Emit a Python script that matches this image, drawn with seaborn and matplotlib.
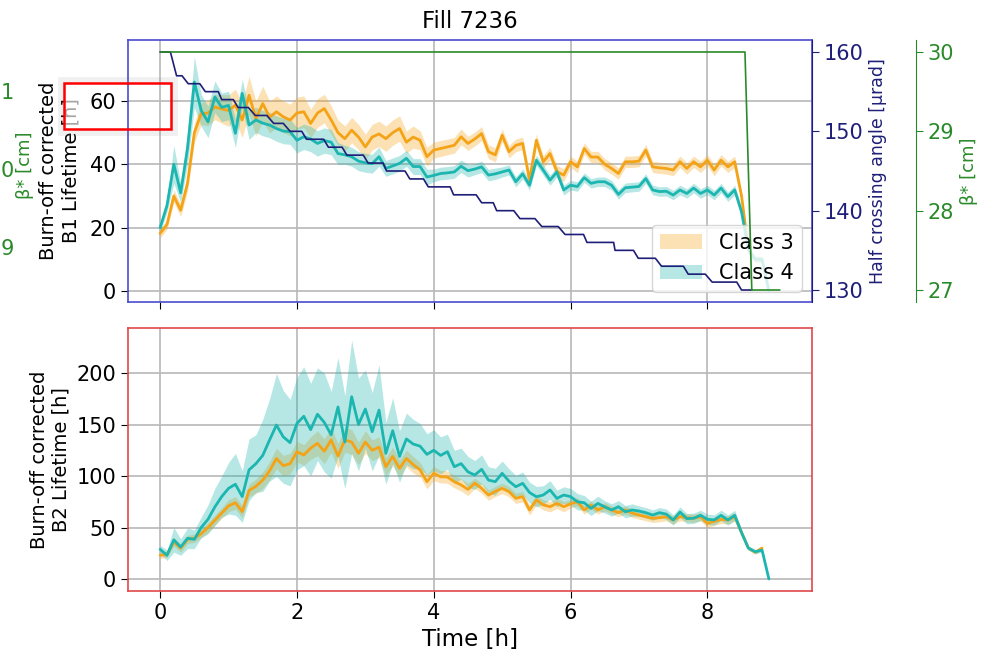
import numpy as np
import matplotlib
matplotlib.use("Agg")
import matplotlib.pyplot as plt
from matplotlib.patches import Rectangle
import seaborn as sns

# ---------------------------------------------------------------- data
time_h = np.round(np.arange(0.0, 8.95, 0.1), 1)

b1_class3 = [
    18.2, 21, 30, 25.5, 34, 50, 56, 56.2, 58.1, 57.5,
    57, 58.7, 54, 61.8, 54.5, 59.2, 54.9, 56.6, 55, 54,
    56.2, 56.6, 52.9, 56.2, 57.6, 54, 50, 48.1, 50.8, 48.6,
    45.5, 48.6, 49.6, 48.1, 50, 51.3, 47, 48.6, 47.6, 42.4,
    44.5, 45, 45.5, 46, 48.7, 46.6, 48, 49.7, 44, 43,
    49.2, 44, 46, 46.6, 35, 47.6, 40.8, 43.4, 37.7, 36.6,
    40.8, 39.2, 45, 42.3, 42.3, 40, 38.7, 37.1, 40.8, 40.8,
    41, 44.5, 39.2, 38.9, 38.7, 38.2, 40.8, 38.7, 40.8, 39.2,
    41.3, 38.2, 41.3, 39.2, 40.8, 30, 13, 10, 10, np.nan,
]
b1_class3_spread = [
    1.5, 1.5, 2, 2, 2.5, 3, 3.5, 4, 4, 4.5,
    5, 5, 5.5, 6, 5.5, 5.5, 5, 5, 5, 5,
    5, 5, 4.5, 4.5, 4.5, 4.5, 4, 4, 4, 4,
    4, 4, 4, 4, 4, 4, 3.5, 3.5, 3, 3,
    2.5, 2.5, 2.5, 2.5, 2.5, 2.2, 2.2, 2.2, 2.2, 2.2,
    2, 2, 2, 2, 2, 2, 2, 2, 2, 2,
    1.8, 1.8, 1.8, 1.8, 1.8, 1.8, 1.8, 1.8, 1.8, 1.8,
    1.8, 1.8, 1.8, 1.8, 1.8, 1.8, 1.8, 1.8, 1.8, 1.8,
    1.8, 1.8, 1.8, 1.8, 1.8, 1.5, 1.2, 1, 1, np.nan,
]
b1_class4 = [
    20, 27, 40, 31, 45, 66, 57, 53.4, 61.3, 58,
    58.6, 49.8, 62.4, 52.4, 54, 53, 52.4, 51.3, 50.5, 50.3,
    47.6, 48.7, 48, 46.6, 47.5, 47, 43.4, 43, 42.4, 41,
    40.5, 40.2, 42.4, 38.7, 39.5, 40.3, 41.9, 39.3, 39.3, 36,
    36.5, 37.1, 37.3, 37.6, 39.4, 38, 38.5, 39.2, 36.6, 37,
    37.6, 38.2, 34.5, 37, 33.4, 41.3, 38.2, 35, 37.6, 31.9,
    33.4, 33, 35.8, 34, 34.5, 34.5, 33.4, 30.5, 32.6, 32.8,
    33, 35.5, 31.9, 31.4, 31.5, 30.3, 31.9, 30.8, 32.5, 30.8,
    31.9, 30.3, 32.5, 29.8, 31.9, 25, 13, 10, 10, 0,
]
b1_class4_spread = [
    1.5, 2, 6, 3, 5, 8, 5, 5, 5, 4.5,
    4.5, 4.5, 4.5, 4.5, 4, 4, 4, 4, 4, 4,
    4, 4, 4, 4, 4, 4, 3.5, 3, 3, 3,
    3, 3, 3, 2.5, 2.5, 2.5, 2.5, 2.5, 2.5, 2.5,
    2, 2, 2, 2, 2, 2, 1.8, 1.8, 1.8, 1.8,
    1.6, 1.6, 1.6, 1.6, 1.6, 1.6, 1.6, 1.6, 1.6, 1.6,
    1.5, 1.5, 1.5, 1.5, 1.5, 1.5, 1.5, 1.5, 1.5, 1.5,
    1.5, 1.5, 1.5, 1.5, 1.5, 1.5, 1.5, 1.5, 1.5, 1.5,
    1.5, 1.5, 1.5, 1.5, 1.5, 1.5, 1.2, 1, 1, 0,
]

b2_class3 = [
    23, 24, 36, 30, 38.5, 39.5, 44, 50, 57, 64,
    71, 74, 65.4, 86, 90, 96, 105, 117, 110, 112,
    123.6, 120.4, 127, 131.7, 124, 135, 119.4, 135, 133, 122,
    133, 125, 128, 109, 119, 107.4, 117, 111, 106, 94.5,
    102.6, 99.3, 99, 94.5, 91.3, 87, 93, 88, 81.5, 85,
    88, 84.8, 78.3, 80, 67, 76.7, 72, 70.2, 73.4, 70.2,
    73, 75, 67, 71.8, 67, 70.2, 67, 64.4, 67, 64,
    62.1, 60.5, 58.9, 59.5, 60.5, 57.3, 60.5, 59.5, 58.9, 60.5,
    54, 56, 57.9, 57.3, 60.5, 45, 30, 26, 30, np.nan,
]
b2_class3_spread = [
    3, 3, 4, 4, 4, 4, 4, 5, 5, 5,
    6, 6, 6, 6, 7, 8, 9, 10, 10, 10,
    10, 10, 11, 12, 12, 12, 12, 12, 12, 11,
    11, 10, 10, 9, 9, 8, 8, 8, 7, 7,
    7, 6, 6, 6, 6, 6, 5, 5, 5, 5,
    5, 5, 5, 5, 5, 5, 5, 5, 5, 5,
    4, 4, 4, 4, 4, 4, 4, 4, 4, 4,
    4, 4, 4, 4, 4, 4, 4, 4, 4, 4,
    4, 4, 4, 4, 4, 3, 2, 2, 2, np.nan,
]
b2_class4 = [
    28.8, 23, 38, 31, 39.5, 38.5, 50, 58, 70, 80,
    88, 92, 80, 106, 112, 120, 135, 149.5, 138, 132.4,
    151, 158, 145, 160, 152, 140, 167, 133, 177, 150,
    165, 143, 164, 122, 144, 119, 136, 131, 129, 121,
    125, 120, 123.6, 109, 112, 104, 101, 106.5, 96, 94.5,
    102.6, 95, 89.6, 92.9, 84, 79.9, 81.5, 86.4, 78.3, 81.5,
    80, 75, 74, 68.6, 73.4, 70, 67, 70.2, 65.3, 67,
    66, 64.4, 62.1, 64.4, 63, 57.3, 65, 58.6, 59, 61.8,
    58, 57.3, 61.8, 57.3, 61.8, 45, 30, 26.5, 28, 0,
]
b2_class4_spread = [
    4, 5, 12, 8, 10, 9, 10, 14, 18, 20,
    25, 30, 25, 30, 28, 35, 40, 50, 45, 42,
    45, 48, 45, 45, 48, 42, 48, 45, 55, 45,
    38, 38, 44, 30, 32, 25, 25, 24, 22, 20,
    20, 18, 17, 16, 15, 15, 14, 14, 13, 13,
    12, 12, 11, 11, 10, 10, 9, 9, 8, 8,
    8, 8, 7, 7, 7, 6, 6, 6, 6, 6,
    5, 5, 5, 5, 5, 5, 5, 5, 5, 5,
    5, 5, 5, 5, 5, 3, 2, 2, 2, 0,
]

# half crossing angle [µrad] (stepped leveling)
xing_t = [0.0, 0.15, 0.24, 0.32, 0.41, 0.58, 0.66, 0.85, 0.90, 1.07,
          1.14, 1.29, 1.39, 1.56, 1.66, 1.80, 1.90, 2.07, 2.14, 2.39,
          2.46, 2.66, 2.73, 2.97, 3.04, 3.26, 3.31, 3.58, 3.65, 3.85,
          3.92, 4.24, 4.29, 4.62, 4.70, 4.87, 4.92, 5.17, 5.26, 5.48,
          5.58, 5.82, 5.92, 6.19, 6.24, 6.63, 6.65, 6.92, 6.99, 7.24,
          7.33, 7.65, 7.72, 7.97, 8.07, 8.43, 8.50, 8.65]
xing_angle = [160, 160, 157, 157, 156, 156, 155, 155, 154, 154,
              153, 153, 152, 152, 151, 151, 150, 150, 149, 149,
              148, 148, 147, 147, 146, 146, 145, 145, 144, 144,
              143, 143, 142, 142, 141, 141, 140, 140, 139, 139,
              138, 138, 137, 137, 136, 136, 135, 135, 134, 134,
              133, 133, 132, 132, 131, 131, 130, 130]

# beta* [cm]
beta_t = [0.0, 8.55, 8.65, 9.06]
beta_cm = [30, 30, 27, 27]

angle_ticks = [130, 140, 150, 160]
beta_ticks = [27, 28, 29, 30]
b1_ticks = [0, 20, 40, 60]
b2_ticks = [0, 50, 100, 150, 200]
time_ticks = [0, 2, 4, 6, 8]
class_labels = ["Class 3", "Class 4"]

# ---------------------------------------------------------------- style
sns.set_style("ticks")
plt.rcParams["font.family"] = ["DejaVu Sans"]
plt.rcParams.update({
    "text.color": "black",
    "axes.labelcolor": "black",
    "xtick.color": "black",
    "ytick.color": "black",
})

C3 = "#f4a316"
C4 = "#1cb6b0"
NAVY = "#1e1e78"
GREEN = "#2a8a2a"
BLUE_SPINE = "#4a4ad0"
RED_SPINE = "#e04848"
GRID = "#b8b8b8"
TICK_FS = 15

W, H = 984, 653
fig = plt.figure(figsize=(W / 100, H / 100), dpi=100)


def px_box(left, top, right, bottom):
    return [left / W, 1 - bottom / H, (right - left) / W, (bottom - top) / H]


ax1 = fig.add_axes(px_box(128, 40, 812, 302))
ax2 = fig.add_axes(px_box(128, 328, 812, 591), sharex=ax1)

t = np.asarray(time_h)


def draw_class(ax, mean, spread, color, label):
    mean = np.asarray(mean, dtype=float)
    spread = np.asarray(spread, dtype=float)
    ax.fill_between(t, mean - spread, mean + spread, color=color,
                    alpha=0.32, lw=0, label=label)
    sns.lineplot(x=t, y=mean, ax=ax, color=color, lw=2, errorbar=None,
                 legend=False)


# ---- top panel: B1
draw_class(ax1, b1_class3, b1_class3_spread, C3, class_labels[0])
draw_class(ax1, b1_class4, b1_class4_spread, C4, class_labels[1])
ax1.set_xlim(-0.47, 9.53)
ax1.set_ylim(-3.47, 79.26)
ax1.set_yticks(b1_ticks)
ax1.set_xticks(time_ticks)
ax1.tick_params(labelbottom=False, labelsize=TICK_FS, length=5)
ax1.grid(True, color=GRID, lw=1.2)
ax1.set_axisbelow(True)
for side in ["left", "top", "bottom", "right"]:
    ax1.spines[side].set_color(BLUE_SPINE)
    ax1.spines[side].set_linewidth(1.2)
ax1.set_ylabel("")
ax1.set_title("Fill 7236", fontsize=16.5, pad=9)
ax1.legend(loc="lower right", fontsize=15, framealpha=0.8)

# crossing angle axis
ax_ang = ax1.twinx()
sns.lineplot(x=xing_t, y=xing_angle, ax=ax_ang, color=NAVY, lw=1.2,
             legend=False)
ax_ang.set_ylim(128.49, 161.51)
ax_ang.set_yticks(angle_ticks)
ax_ang.tick_params(axis="y", colors=NAVY, labelsize=TICK_FS, length=5)
ax_ang.set_ylabel("Half crossing angle [µrad]", color=NAVY, fontsize=12.5)
for side in ["left", "top", "bottom"]:
    ax_ang.spines[side].set_visible(False)
ax_ang.spines["right"].set_color(NAVY)

# beta* axis
ax_beta = ax1.twinx()
sns.lineplot(x=beta_t, y=beta_cm, ax=ax_beta, color=GREEN, lw=1.2,
             legend=False)
ax_beta.spines["right"].set_position(("axes", 1.152))
ax_beta.set_ylim(26.849, 30.151)
ax_beta.set_yticks(beta_ticks)
ax_beta.tick_params(axis="y", colors=GREEN, labelsize=TICK_FS, length=5)
ax_beta.set_ylabel("β* [cm]", color=GREEN, fontsize=13)
for side in ["left", "top", "bottom"]:
    ax_beta.spines[side].set_visible(False)
ax_beta.spines["right"].set_color(GREEN)
ax_beta.set_xlim(-0.47, 9.53)

# ---- bottom panel: B2
draw_class(ax2, b2_class3, b2_class3_spread, C3, class_labels[0])
draw_class(ax2, b2_class4, b2_class4_spread, C4, class_labels[1])
ax2.set_ylim(-11.65, 243.7)
ax2.set_yticks(b2_ticks)
ax2.set_xticks(time_ticks)
ax2.tick_params(labelsize=TICK_FS, length=5)
ax2.grid(True, color=GRID, lw=1.2)
ax2.set_axisbelow(True)
for side in ["left", "top", "bottom", "right"]:
    ax2.spines[side].set_color(RED_SPINE)
    ax2.spines[side].set_linewidth(1.2)
ax2.set_xlabel("Time [h]", fontsize=16.5)
ax2.set_ylabel("Burn-off corrected\nB2 Lifetime [h]", fontsize=14)

# ---- top panel y label, partly veiled by the highlight box
fig.text(60 / W, 1 - 171 / H, "Burn-off corrected\nB1 Lifetime [h]",
         rotation=90, ha="center", va="center", fontsize=14,
         multialignment="center", zorder=-2)
fig.add_artist(Rectangle((64 / W, 1 - 129 / H), 107 / W, 46 / H,
                         transform=fig.transFigure, facecolor="white",
                         alpha=0.65, edgecolor="none", zorder=-1))
fig.add_artist(Rectangle((61 / W, 1 - 132 / H), 113 / W, 52 / H,
                         transform=fig.transFigure, fill=False,
                         edgecolor="#888888", alpha=0.12, lw=5, zorder=9))
fig.add_artist(Rectangle((64 / W, 1 - 129 / H), 107 / W, 46 / H,
                         transform=fig.transFigure, fill=False,
                         edgecolor="red", lw=1.8, zorder=10))

# ---- neighbouring beta* scale at the left edge
for txt, ypx in zip(["1", "0", "9"], [93, 171, 249]):
    fig.text(1 / W, 1 - ypx / H, txt, color=GREEN, fontsize=TICK_FS,
             ha="left", va="center")
fig.text(25 / W, 1 - 165 / H, "β* [cm]", color=GREEN, fontsize=13,
         rotation=90, ha="center", va="center")

fig.savefig("out.png", dpi=100)
